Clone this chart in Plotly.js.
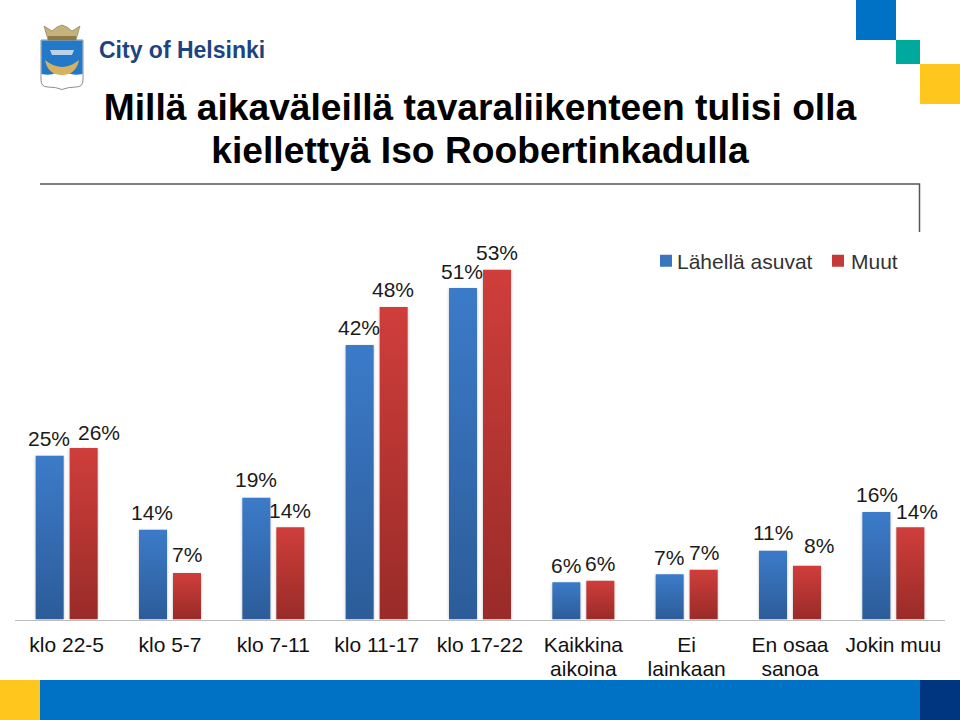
<!DOCTYPE html>
<html><head><meta charset="utf-8">
<script src="https://cdn.plot.ly/plotly-3.0.1.min.js"></script>
<style>html,body{margin:0;padding:0;background:#fff}#c{width:960px;height:720px}</style>
</head><body><div id="c"></div>
<script>
const categories=["klo 22-5","klo 5-7","klo 7-11","klo 11-17","klo 17-22","Kaikkina<br>aikoina","Ei<br>lainkaan","En osaa<br>sanoa","Jokin muu"];
const nearby=[25,13.7,18.6,41.9,50.6,5.7,6.9,10.5,16.4];
const others=[26.2,7.1,14.1,47.7,53.4,5.9,7.6,8.2,14.1];
const nearbyLabels=[25,14,19,42,51,6,7,11,16];
const othersLabels=[26,7,14,48,53,6,7,8,14];
const seriesNames=["Lähellä asuvat","Muut"];
const titleText="Millä aikaväleillä tavaraliikenteen tulisi olla<br>kiellettyä Iso Roobertinkadulla";

// label placement relative to each bar top (pixels)
const nearbyDx=[-1,-1,0,-1,-1,0,-1,0,1], nearbyDy=[17,17,18,18,17,17,17,18,18];
const othersDx=[15,0,0,-1,0,0,0,12,7], othersDy=[15,18,17,18,17,17,17,20,16];

const W=960,H=720;
const px=x=>x/W, py=y=>1-y/H;
const rect=(x0,y0,x1,y1,c)=>({type:'rect',xref:'paper',yref:'paper',x0:px(x0),x1:px(x1),y0:py(y1),y1:py(y0),fillcolor:c,line:{width:0},layer:'below'});
const pth=(segs,fill,line,lw)=>({type:'path',xref:'paper',yref:'paper',layer:'below',
  path:segs.map(s=>s[0]+(s.length>1?s.slice(1).map((v,i)=>i%2?py(v):px(v)).join(','):'')).join(' '),
  fillcolor:fill||'rgba(0,0,0,0)',line:{color:line||'rgba(0,0,0,0)',width:lw||0}});

const shapes=[
 rect(856,0,896,40,'#0072C6'),rect(896,40,920,64,'#00A99D'),rect(920,64,960,104,'#FFC61E'),
 rect(0,680,40,720,'#FFC61E'),rect(40,680,920,720,'#0072C6'),rect(920,680,960,720,'#003580'),
 pth([['M',40,184],['L',919.5,184],['L',919.5,232]],null,'#555',1.5),
 // crest
 pth([['M',41,40],['L',83,40],['L',83,80],['Q',83,87,76,87],['Q',68,87,62,89.5],['Q',56,87,48,87],['Q',41,87,41,80],['Z']],'#fff','#8a8f96',1),
 pth([['M',41.5,40.5],['L',82.5,40.5],['L',82.5,74],['Q',74,76,68,73],['Q',62,71,56,73],['Q',50,76,41.5,74],['Z']],'#2478C8'),
 pth([['M',45,60],['Q',62,74,79,60],['Q',76,75,62,75],['Q',48,75,45,60],['Z']],'#D6B25E'),
 pth([['M',50,50],['L',74,50],['L',72,55],['L',52,55],['Z']],'#BBD3EA'),
 pth([['M',44,26],['L',52,31],['L',57,27],['L',62,25],['L',67,27],['L',72,31],['L',80,26],['L',76,40],['L',48,40],['Z']],'#C4B27A','#7d7350',0.6),
 pth([['M',48,36],['L',76,36],['L',76,40],['L',48,40],['Z']],'#8C7A45')
];

const annotations=[
 {xref:'paper',yref:'paper',x:px(97),y:py(50.5),xanchor:'left',yanchor:'middle',showarrow:false,text:'<b>City of Helsinki</b>',font:{family:'"Liberation Sans",Arial,sans-serif',size:23,color:'#1C4480'}}
];
const lab=(i,v,t,side,dx,dy)=>({x:i,y:v,xref:'x',yref:'y',text:t+'%',showarrow:false,xanchor:'center',yanchor:'middle',
  xshift:side*17+dx,yshift:dy,font:{family:'"Liberation Sans",Arial,sans-serif',size:21,color:'#1a1a1a'}});
categories.forEach((c,i)=>{
  annotations.push(lab(i,nearby[i],nearbyLabels[i],-1,nearbyDx[i],nearbyDy[i]));
  annotations.push(lab(i,others[i],othersLabels[i],1,othersDx[i],othersDy[i]));
});

const idx=categories.map((c,i)=>i);
const traces=[
 {type:'bar',name:seriesNames[0],x:idx,y:nearby,marker:{color:'#3A76C0',line:{width:0}},hoverinfo:'skip'},
 {type:'bar',name:seriesNames[1],x:idx,y:others,marker:{color:'#C43A37',line:{width:0}},hoverinfo:'skip'}
];
const layout={
 width:W,height:H,margin:{l:0,r:0,t:0,b:0,pad:0,autoexpand:false},paper_bgcolor:'#fff',plot_bgcolor:'rgba(0,0,0,0)',
 font:{family:'"Liberation Sans",Arial,sans-serif',size:21,color:'#111'},
 title:{text:'<b>'+titleText.replace('<br>','</b><br><b>')+'</b>',x:0.5,xanchor:'center',xref:'paper',y:1-119.5/H,yref:'paper',yanchor:'middle',
   font:{family:'"Liberation Sans",Arial,sans-serif',size:37.2,color:'#000'}},
 barmode:'group',bargap:0.342,bargroupgap:0.176,
 xaxis:{domain:[15/W,945/W],range:[-0.5,8.5],tickmode:'array',tickvals:idx,ticktext:categories,automargin:false,fixedrange:true,
   showgrid:false,zeroline:false,showline:true,linecolor:'#BDBDBD',linewidth:1.5,ticks:'',tickfont:{size:21,color:'#111'},ticklabelstandoff:6,tickangle:0},
 yaxis:{domain:[100.5/H,1],range:[0,94.58],visible:false,fixedrange:true,showgrid:false,zeroline:false},
 legend:{orientation:'h',x:px(646),y:py(261),xanchor:'left',yanchor:'middle',font:{size:21,color:'#333'},bgcolor:'rgba(0,0,0,0)',
   itemwidth:30,entrywidth:127,entrywidthmode:'pixels',traceorder:'normal',itemclick:false,itemdoubleclick:false},
 shapes,annotations,showlegend:true
};
Plotly.newPlot('c',traces,layout,{displayModeBar:false,staticPlot:true}).then(gd=>{
  const svg=gd.querySelector('svg.main-svg');
  const NS='http://www.w3.org/2000/svg';
  const defs=svg.querySelector('defs')||svg.insertBefore(document.createElementNS(NS,'defs'),svg.firstChild);
  const grad=(id,a,b)=>{const g=document.createElementNS(NS,'linearGradient');g.id=id;g.setAttribute('x1',0);g.setAttribute('x2',0);g.setAttribute('y1',0);g.setAttribute('y2',1);
    [[0,a],[1,b]].forEach(([o,c])=>{const s=document.createElementNS(NS,'stop');s.setAttribute('offset',o);s.setAttribute('stop-color',c);g.appendChild(s)});defs.appendChild(g)};
  grad('gBlue','#3C7BC9','#2C5C99');grad('gRed','#CF3E3B','#992B28');
  gd.querySelectorAll('.barlayer .trace').forEach((t,i)=>{
    t.querySelectorAll('path').forEach(p=>{p.style.fill='url(#'+(i?'gRed':'gBlue')+')';p.style.filter='drop-shadow(0 1px 1.5px rgba(0,0,0,.25))'});
  });
  // tighter line spacing for two-line tick labels and the title
  gd.querySelectorAll('.xtick text tspan.line:nth-of-type(2)').forEach(s=>s.setAttribute('dy','24'));
  gd.querySelectorAll('.gtitle tspan.line:nth-of-type(2)').forEach(s=>s.setAttribute('dy','43'));
  gd.querySelectorAll('.legendtext').forEach((t,i)=>{const x=i?33:31;t.setAttribute('x',x);t.querySelectorAll('tspan').forEach(s=>s.getAttribute('x')&&s.setAttribute('x',x))});
});
</script></body></html>
